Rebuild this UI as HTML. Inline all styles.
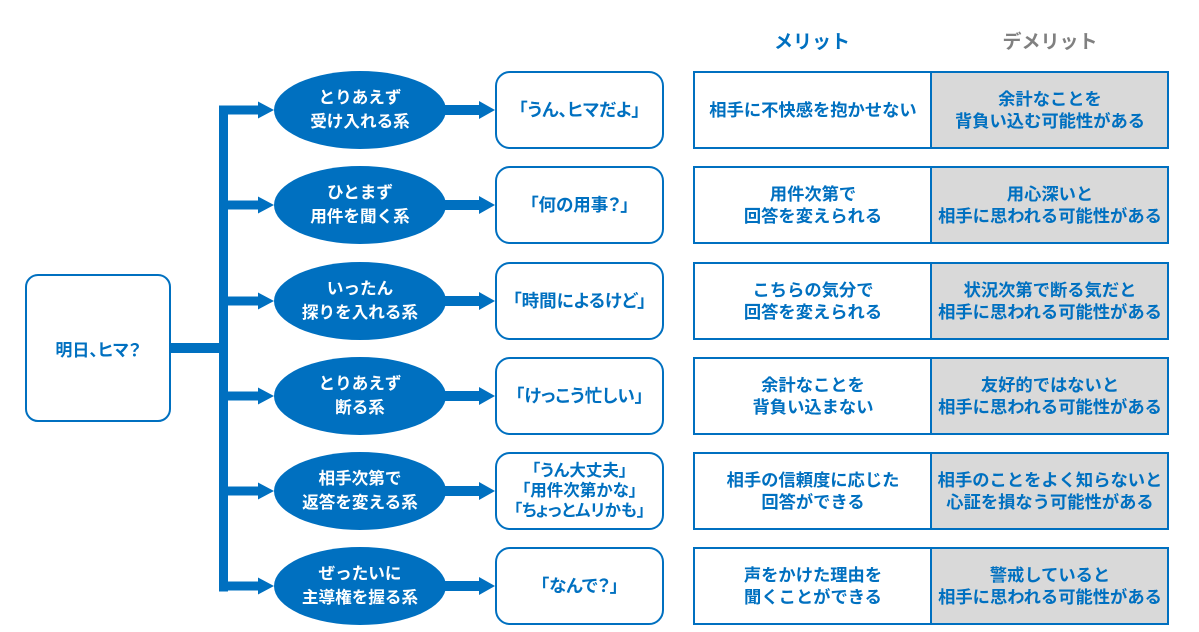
<!DOCTYPE html>
<html><head><meta charset="utf-8">
<style>
html,body{margin:0;padding:0;background:#fff;}
body{width:1199px;height:632px;position:relative;overflow:hidden;font-family:"Liberation Sans","Noto Sans CJK JP",sans-serif;}
svg{position:absolute;left:0;top:0;}
.t{position:absolute;display:flex;align-items:center;justify-content:center;text-align:center;font-weight:700;white-space:nowrap;}
.cell{color:#0070C0;font-size:17.3px;line-height:22px;width:238px;height:78px;}
.el{color:#fff;font-size:16.6px;line-height:24px;width:172px;height:78px;left:274px;}
.q{color:#0070C0;font-size:17.5px;line-height:20px;width:169px;height:78px;left:495px;font-feature-settings:"palt";}
.h{font-size:19px;color:#0070C0;}
</style></head><body>
<svg width="1199" height="632" viewBox="0 0 1199 632">
<g fill="#0070C0">
<rect x="170" y="343" width="55" height="10"/>
<rect x="219" y="105.5" width="9" height="486"/>
</g>
<rect x="26" y="275" width="144" height="146" rx="12" fill="#fff" stroke="#0070C0" stroke-width="2"/>
<g fill="#0070C0">
<rect x="224" y="105.5" width="36" height="9"/><polygon points="258,101.5 274,110 258,118.5"/>
<rect x="224" y="200.5" width="36" height="9"/><polygon points="258,196.5 274,205 258,213.5"/>
<rect x="224" y="296.5" width="36" height="9"/><polygon points="258,292.5 274,301 258,309.5"/>
<rect x="224" y="391.5" width="36" height="9"/><polygon points="258,387.5 274,396 258,404.5"/>
<rect x="224" y="486.5" width="36" height="9"/><polygon points="258,482.5 274,491 258,499.5"/>
<rect x="219" y="581.5" width="41" height="9"/><polygon points="258,577.5 274,586 258,594.5"/>

<ellipse cx="360" cy="110" rx="86" ry="39"/>
<ellipse cx="360" cy="205" rx="86" ry="39"/>
<ellipse cx="360" cy="301" rx="86" ry="39"/>
<ellipse cx="360" cy="396" rx="86" ry="39"/>
<ellipse cx="360" cy="491" rx="86" ry="39"/>
<ellipse cx="360" cy="586" rx="86" ry="39"/>

<rect x="440" y="105" width="41" height="10"/><polygon points="479,101 495,110 479,119"/>
<rect x="440" y="200" width="41" height="10"/><polygon points="479,196 495,205 479,214"/>
<rect x="440" y="296" width="41" height="10"/><polygon points="479,292 495,301 479,310"/>
<rect x="440" y="391" width="41" height="10"/><polygon points="479,387 495,396 479,405"/>
<rect x="440" y="486" width="41" height="10"/><polygon points="479,482 495,491 479,500"/>
<rect x="440" y="581" width="41" height="10"/><polygon points="479,577 495,586 479,595"/>
</g>
<g fill="#fff" stroke="#0070C0" stroke-width="2">
<rect x="496" y="72" width="167" height="76" rx="14"/>
<rect x="496" y="167" width="167" height="76" rx="14"/>
<rect x="496" y="263" width="167" height="76" rx="14"/>
<rect x="496" y="358" width="167" height="76" rx="14"/>
<rect x="496" y="453" width="167" height="76" rx="14"/>
<rect x="496" y="548" width="167" height="76" rx="14"/>
</g>
<g stroke="#0070C0" stroke-width="2">
<rect x="694" y="72" width="237" height="76" fill="#fff"/><rect x="931" y="72" width="237" height="76" fill="#d9d9d9"/>
<rect x="694" y="167" width="237" height="76" fill="#fff"/><rect x="931" y="167" width="237" height="76" fill="#d9d9d9"/>
<rect x="694" y="263" width="237" height="76" fill="#fff"/><rect x="931" y="263" width="237" height="76" fill="#d9d9d9"/>
<rect x="694" y="358" width="237" height="76" fill="#fff"/><rect x="931" y="358" width="237" height="76" fill="#d9d9d9"/>
<rect x="694" y="453" width="237" height="76" fill="#fff"/><rect x="931" y="453" width="237" height="76" fill="#d9d9d9"/>
<rect x="694" y="548" width="237" height="76" fill="#fff"/><rect x="931" y="548" width="237" height="76" fill="#d9d9d9"/>
</g>
</svg>

<div class="t h" style="left:742px;top:26px;width:140px;height:28px;">メリット</div>
<div class="t h" style="left:980px;top:26px;width:140px;height:28px;color:#808080;">デメリット</div>

<div class="t" style="left:26px;top:275px;width:144px;height:146px;color:#0070C0;font-size:17px;font-feature-settings:'palt';">明日、ヒマ？</div>

<div class="t el" style="top:71px;">とりあえず<br>受け入れる系</div>
<div class="t el" style="top:166px;">ひとまず<br>用件を聞く系</div>
<div class="t el" style="top:262px;">いったん<br>探りを入れる系</div>
<div class="t el" style="top:357px;">とりあえず<br>断る系</div>
<div class="t el" style="top:452px;">相手次第で<br>返答を変える系</div>
<div class="t el" style="top:547px;">ぜったいに<br>主導権を握る系</div>

<div class="t q" style="top:71px;">「うん、ヒマだよ」</div>
<div class="t q" style="top:166px;">「何の用事？」</div>
<div class="t q" style="top:262px;">「時間によるけど」</div>
<div class="t q" style="top:357px;">「けっこう忙しい」</div>
<div class="t q" style="top:452px;font-size:16.5px;">「うん大丈夫」<br>「用件次第かな」<br>「ちょっとムリかも」</div>
<div class="t q" style="top:547px;">「なんで？」</div>

<div class="t cell" style="left:694px;top:71px;">相手に不快感を抱かせない</div>
<div class="t cell" style="left:931px;top:71px;">余計なことを<br>背負い込む可能性がある</div>
<div class="t cell" style="left:694px;top:166px;">用件次第で<br>回答を変えられる</div>
<div class="t cell" style="left:931px;top:166px;">用心深いと<br>相手に思われる可能性がある</div>
<div class="t cell" style="left:694px;top:262px;">こちらの気分で<br>回答を変えられる</div>
<div class="t cell" style="left:931px;top:262px;">状況次第で断る気だと<br>相手に思われる可能性がある</div>
<div class="t cell" style="left:694px;top:357px;">余計なことを<br>背負い込まない</div>
<div class="t cell" style="left:931px;top:357px;">友好的ではないと<br>相手に思われる可能性がある</div>
<div class="t cell" style="left:694px;top:452px;">相手の信頼度に応じた<br>回答ができる</div>
<div class="t cell" style="left:931px;top:452px;">相手のことをよく知らないと<br>心証を損なう可能性がある</div>
<div class="t cell" style="left:694px;top:547px;">声をかけた理由を<br>聞くことができる</div>
<div class="t cell" style="left:931px;top:547px;">警戒していると<br>相手に思われる可能性がある</div>
</body></html>
